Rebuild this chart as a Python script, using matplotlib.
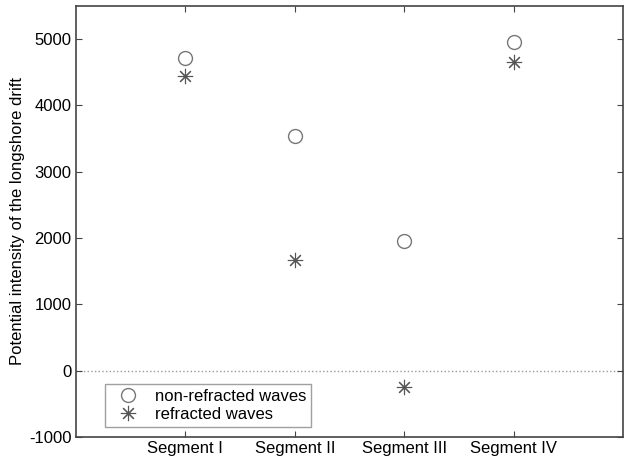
import matplotlib.pyplot as plt

plt.rcParams['font.family'] = ['Liberation Sans', 'DejaVu Sans']
plt.rcParams['axes.unicode_minus'] = False

# data
segments = ['Segment I', 'Segment II', 'Segment III', 'Segment IV']
non_refracted = [4720, 3540, 1960, 4950]
refracted = [4440, 1670, -240, 4650]
x = [1, 2, 3, 4]

fig = plt.figure(figsize=(6.32, 4.57), dpi=100)
ax = fig.add_axes([0.120, 0.044, 0.866, 0.943])

ax.axhline(0, color='#999999', linestyle=':', linewidth=1, zorder=1)

ax.plot(x, non_refracted, linestyle='none', marker='o', markersize=10,
        markerfacecolor='none', markeredgecolor='#777777', markeredgewidth=1,
        label='non-refracted waves')
ax.plot(x, refracted, linestyle='none', marker=(8, 2, 0), markersize=11,
        color='#555555', markeredgewidth=0.8, label='refracted waves')

ax.set_xlim(0, 5)
ax.set_ylim(-1000, 5500)
ax.set_xticks(x)
ax.set_xticklabels(segments, fontsize=12)
ax.set_yticks(range(-1000, 5001, 1000))
ax.tick_params(axis='both', direction='in', length=4, width=0.8,
               top=True, right=True, labelsize=12, pad=3, color='#444444')
for s in ax.spines.values():
    s.set_color('#444444')
    s.set_linewidth(1.2)

ax.set_ylabel('Potential intensity of the longshore drift', fontsize=12, labelpad=3)

leg = ax.legend(loc='lower left', bbox_to_anchor=(0.053, 0.023), fontsize=12,
                frameon=True, fancybox=False, edgecolor='#888888',
                handlelength=2.2, handletextpad=0.5, borderpad=0.3,
                labelspacing=0.2, borderaxespad=0)
leg.get_frame().set_linewidth(1)

fig.savefig('out.png', dpi=100)
